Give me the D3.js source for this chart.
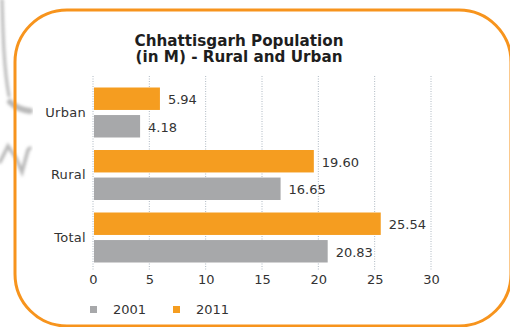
<!DOCTYPE html>
<html>
<head>
<meta charset="utf-8">
<script src="https://cdn.jsdelivr.net/npm/d3@7"></script>
<style>
  html, body { margin: 0; padding: 0; background: #fff; }
  svg { display: block; }
  text { font-family: "DejaVu Sans", "Open Sans", sans-serif; }
</style>
</head>
<body>
<svg id="chart" width="510" height="327"></svg>
<script>
// Population of Chhattisgarh, in millions
const categories = ["Urban", "Rural", "Total"];
const years = ["2011", "2001"];
const values2011 = [5.94, 19.60, 25.54];
const values2001 = [4.18, 16.65, 20.83];
const valueLabels2011 = ["5.94", "19.60", "25.54"];
const valueLabels2001 = ["4.18", "16.65", "20.83"];
const xTicks = [0, 5, 10, 15, 20, 25, 30];
const titleLines = ["Chhattisgarh Population", "(in M) - Rural and Urban"];
const legendItems = ["2001", "2011"];

const colors = { "2011": "#f59d20", "2001": "#a7a8aa" };
const fontStack = "\"DejaVu Sans\", \"Open Sans\", sans-serif";

const svg = d3.select("#chart");

// soft grey flourish along the left edge
const defs = svg.append("defs");
defs.append("filter").attr("id", "soft")
  .append("feGaussianBlur").attr("stdDeviation", 1.6);
const deco = svg.append("g").attr("filter", "url(#soft)")
  .attr("fill", "none").attr("stroke", "#b9b9b9").attr("stroke-linecap", "round");
deco.append("path").attr("stroke-width", 3)
  .attr("d", "M2,0 C3,35 4,70 9,96");
deco.append("path").attr("stroke-width", 6)
  .attr("d", "M10,102 C16,108 22,110 30,111");
deco.append("path").attr("stroke-width", 3.5)
  .attr("d", "M0,162 L8,146 L16,158 L22,172 L28,150 L30,148");

// rounded orange frame
svg.append("rect")
  .attr("x", 15).attr("y", 10)
  .attr("width", 496).attr("height", 316)
  .attr("rx", 52).attr("ry", 52)
  .attr("fill", "none")
  .attr("stroke", "#f7941d")
  .attr("stroke-width", 3);

// title, two lines
svg.append("g").selectAll("text").data(titleLines).join("text")
  .attr("x", 239).attr("y", (d, i) => 46 + i * 15.5)
  .attr("text-anchor", "middle")
  .attr("font-size", 15.2).attr("font-weight", 700).attr("fill", "#1e1e1e")
  .text(d => d);

// scales
const x = d3.scaleLinear().domain([0, 30]).range([93, 431]);
const y = d3.scaleBand().domain(categories)
  .range([81.25, 268.75]).paddingInner(0.2).paddingOuter(0.1);
const ySub = d3.scaleBand().domain(years)
  .range([0, y.bandwidth()]).paddingInner(0.185);

// dotted gridlines
svg.append("g").selectAll("line").data(xTicks).join("line")
  .attr("x1", d => x(d)).attr("x2", d => x(d))
  .attr("y1", 76).attr("y2", 270)
  .attr("stroke", "#aeb8c2").attr("stroke-width", 1)
  .attr("stroke-dasharray", "1,1.5");

// bottom axis labels
const xAxis = d3.axisBottom(x).tickValues(xTicks).tickSize(0).tickPadding(0);
const ax = svg.append("g").attr("transform", "translate(0,275)").call(xAxis);
ax.select(".domain").remove();
ax.selectAll("text")
  .attr("dy", "0.71em")
  .attr("font-size", 13).attr("fill", "#333")
  .attr("font-family", fontStack);

// category labels
const yAxis = d3.axisLeft(y).tickSize(0).tickPadding(0);
const ay = svg.append("g").attr("transform", "translate(86,0)").call(yAxis);
ay.select(".domain").remove();
ay.selectAll("text")
  .attr("font-size", 13).attr("fill", "#333")
  .attr("letter-spacing", 0.3)
  .attr("font-family", fontStack);

// bars and value labels
const rows = categories.map((c, i) => ({
  category: c,
  items: [
    { year: "2011", value: values2011[i], label: valueLabels2011[i] },
    { year: "2001", value: values2001[i], label: valueLabels2001[i] }
  ]
}));

const groups = svg.append("g").selectAll("g").data(rows).join("g")
  .attr("transform", d => `translate(0,${y(d.category)})`);

groups.selectAll("rect").data(d => d.items).join("rect")
  .attr("x", x(0) + 1)
  .attr("y", d => ySub(d.year))
  .attr("width", d => x(d.value) - x(0) - 1)
  .attr("height", ySub.bandwidth())
  .attr("fill", d => colors[d.year]);

groups.selectAll("text").data(d => d.items).join("text")
  .attr("x", d => x(d.value) + 8)
  .attr("y", d => ySub(d.year) + ySub.bandwidth() / 2 + 1)
  .attr("dy", "0.35em")
  .attr("font-size", 13).attr("fill", "#333")
  .text(d => d.label);

// legend
const legendX = [90, 173];
const legend = svg.append("g").selectAll("g").data(legendItems).join("g")
  .attr("transform", (d, i) => `translate(${legendX[i]},306)`);
legend.append("rect")
  .attr("width", 7).attr("height", 7)
  .attr("fill", d => colors[d]);
legend.append("text")
  .attr("x", 23).attr("y", 3.5).attr("dy", "0.35em")
  .attr("font-size", 13).attr("fill", "#333")
  .text(d => d);
</script>
</body>
</html>
